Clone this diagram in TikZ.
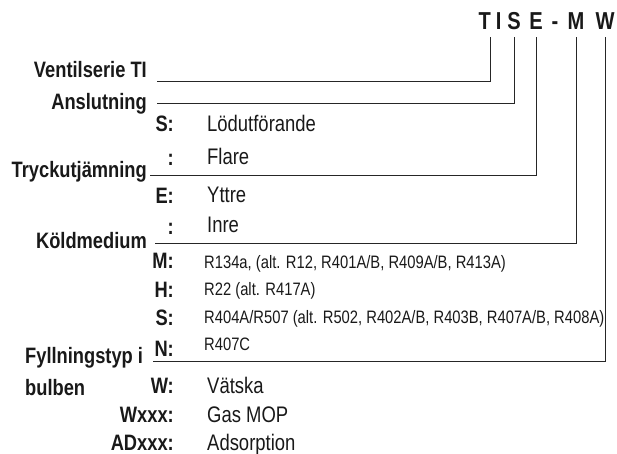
\documentclass[tikz,border=0pt]{standalone}
\usepackage{fontspec}
\newfontfamily\lblfont[FakeStretch=0.82]{Liberation Sans Bold}
\newfontfamily\txtfont[FakeStretch=0.82]{Liberation Sans}
\tikzset{
  codeletter/.style={font=\lblfont\fontsize{24.5}{24}\selectfont, anchor=base, inner sep=0pt, text=black!90},
  field/.style={font=\lblfont\fontsize{22.3}{32}\selectfont, anchor=base east, inner sep=0pt, text=black!90},
  option/.style={font=\lblfont\fontsize{22.3}{24}\selectfont, anchor=base east, inner sep=0pt, text=black!90},
  meaning/.style={font=\txtfont\fontsize{22.5}{24}\selectfont, anchor=base west, inner sep=0pt, text=black!90},
  medium/.style={font=\txtfont\fontsize{18}{20}\selectfont, anchor=base west, inner sep=0pt, text=black!90},
  leader/.style={draw=black!85, line width=0.9pt, shorten >=7pt}
}
\begin{document}
\begin{tikzpicture}[x=1pt,y=-1pt]
            \useasboundingbox (0,0) rectangle (617,454);
            \node[codeletter] (cTI) at (490,30) {T\hspace{5pt}I};
            \node[codeletter] (cS) at (514,30) {S};
            \node[codeletter] (cE) at (536,30) {E};
            \node[codeletter] (cDash) at (555,30) {-};
            \node[codeletter] (cM) at (576,30) {M};
            \node[codeletter] (cW) at (605,30) {W};
            \node[field] (vent) at (147,78) {Ventilserie TI};
            \node[field] (ansl) at (147,110) {Anslutning};
            \node[field] (tryck) at (147,178) {Tryckutjämning};
            \node[field] (kold) at (147,248) {Köldmedium};
            \node[field, anchor=base west, align=left] (fyll) at (25,395) {Fyllningstyp i\\bulben};
            \node[option] (oS) at (174,132) {S:};
            \node[option] (oFl) at (174,166) {:};
            \node[option] (oE) at (174,203) {E:};
            \node[option] (oIn) at (174,234) {:};
            \node[option] (oM) at (174,268) {M:};
            \node[option] (oH) at (174,297) {H:};
            \node[option] (oS2) at (174,325) {S:};
            \node[option] (oN) at (174,356) {N:};
            \node[option] (oW) at (174,393) {W:};
            \node[option] (oWx) at (174,422) {Wxxx:};
            \node[option] (oAD) at (174,450) {ADxxx:};
            \node[meaning] (mLod) at (207,132) {Lödutförande};
            \node[meaning] (mFlare) at (207,165) {Flare};
            \node[meaning] (mYttre) at (207,202) {Yttre};
            \node[meaning] (mInre) at (207,232) {Inre};
            \node[medium] (mM) at (204,268) {R134a, (alt. R12, R401A/B, R409A/B, R413A)};
            \node[medium] (mH) at (204,295) {R22 (alt. R417A)};
            \node[medium] (mS) at (204,323) {R404A/R507 (alt. R502, R402A/B, R403B, R407A/B, R408A)};
            \node[medium] (mN) at (204,350) {R407C};
            \node[meaning] (mW) at (207,393) {Vätska};
            \node[meaning] (mWx) at (207,422) {Gas MOP};
            \node[meaning] (mAD) at (207,450) {Adsorption};
            \coordinate (ventL) at (157,81);
            \coordinate (anslL) at (157,103);
            \coordinate (tryckL) at (150,175);
            \coordinate (koldL) at (155,243);
            \coordinate (fyllL) at (153,361);
            \draw[leader] (ventL) -| (cTI);
            \draw[leader] (anslL) -| (cS);
            \draw[leader] (tryckL) -| (cE);
            \draw[leader] (koldL) -| (cM);
            \draw[leader] (fyllL) -| (cW);
\end{tikzpicture}
\end{document}
